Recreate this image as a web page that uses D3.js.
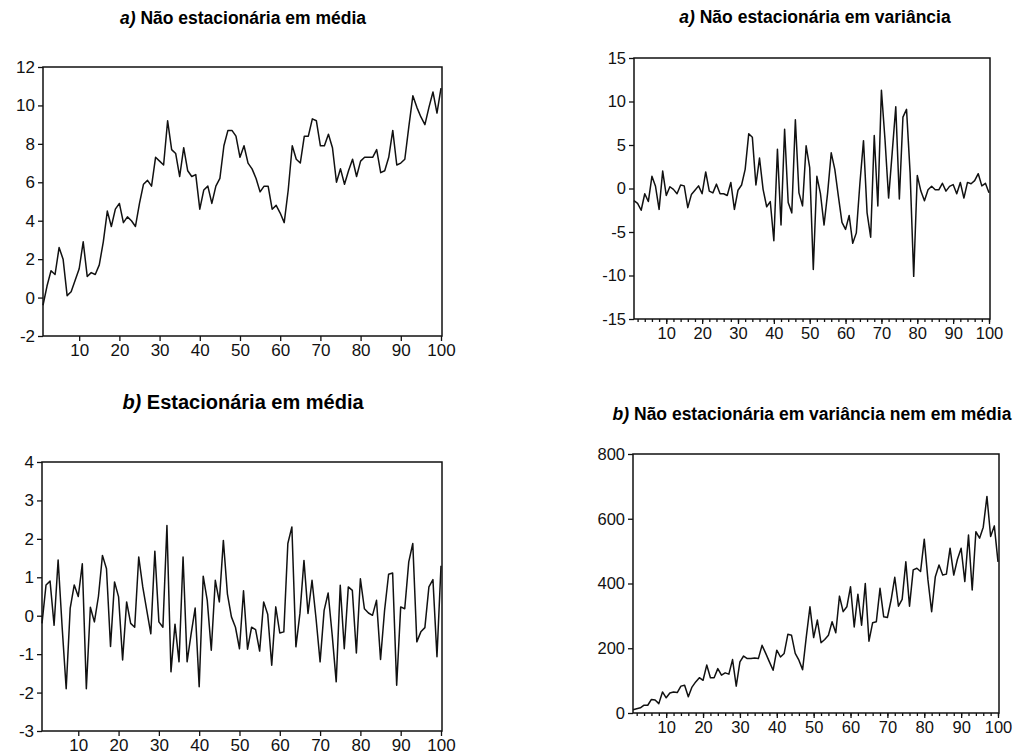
<!DOCTYPE html>
<html>
<head>
<meta charset="utf-8">
<script src="https://cdn.jsdelivr.net/npm/d3@7"></script>
<style>
body { margin: 0; background: #fff; }
svg { font-family: "Liberation Sans", Arial, sans-serif; }
.frame { fill: none; stroke: #111; stroke-width: 1.5; }
.serie { fill: none; stroke: #111; stroke-width: 1.5; stroke-linejoin: round; }
.axis path { display: none; }
.axis line { stroke: #111; stroke-width: 1.3; }
.axis text { fill: #111; }
</style>
</head>
<body>
<script>
// periodos (1..100) e rotulos dos eixos
const periodos = d3.range(1, 101);
const xTicks = [10, 20, 30, 40, 50, 60, 70, 80, 90, 100];
const xMinor = d3.range(2, 101, 2);

// a) nao estacionaria em media
const naoEstMedia = [
  -0.4, 0.6, 1.4, 1.2, 2.6, 2.0, 0.1, 0.3, 0.9, 1.5,
  2.9, 1.1, 1.3, 1.2, 1.7, 2.9, 4.5, 3.7, 4.6, 4.9,
  3.9, 4.2, 4.0, 3.7, 4.9, 5.9, 6.1, 5.8, 7.3, 7.1,
  6.9, 9.2, 7.7, 7.5, 6.3, 7.8, 6.6, 6.3, 6.4, 4.6,
  5.6, 5.8, 4.9, 5.8, 6.2, 7.9, 8.7, 8.7, 8.4, 7.3,
  7.9, 7.0, 6.7, 6.2, 5.5, 5.8, 5.8, 4.6, 4.8, 4.4,
  3.9, 5.6, 7.9, 7.2, 7.0, 8.4, 8.4, 9.3, 9.2, 7.9,
  7.9, 8.5, 7.8, 6.0, 6.7, 5.9, 6.6, 7.2, 6.3, 7.1,
  7.3, 7.3, 7.3, 7.7, 6.5, 6.6, 7.3, 8.7, 6.9, 7.0,
  7.2, 8.9, 10.5, 9.9, 9.4, 9.0, 9.9, 10.7, 9.6, 10.9
];
const yTicksMedia = [-2, 0, 2, 4, 6, 8, 10, 12];

// a) nao estacionaria em variancia
const naoEstVariancia = [
  -1.4, -1.7, -2.5, -0.6, -1.5, 1.4, 0.25, -2.4, 2.0, -0.8,
  0.2, -0.1, -0.6, 0.4, 0.3, -2.2, -0.7, -0.2, 0.3, -0.6,
  1.9, -0.3, -0.5, 0.5, -0.6, -0.6, -0.8, 0.7, -2.4, -0.2,
  0.4, 2.2, 6.3, 5.9, 0.4, 3.5, -0.1, -2.1, -1.5, -6.0,
  4.5, -4.2, 6.8, -1.6, -2.8, 7.9, -0.5, -2.0, 4.9, 2.4,
  -9.3, 1.4, -0.6, -4.2, -0.5, 4.1, 2.2, -0.9, -3.9, -4.7,
  -3.1, -6.3, -5.1, 0.6, 5.5, -2.8, -5.6, 6.1, -2.0, 11.3,
  5.6, -1.1, 4.1, 9.4, -1.2, 8.2, 9.1, 1.8, -10.1, 1.5,
  -0.3, -1.4, -0.15, 0.25, -0.15, -0.15, 0.6, -0.3, 0.25, 0.45,
  -0.6, 0.7, -1.1, 0.7, 0.55, 0.9, 1.7, 0.3, 0.6, -0.5
];
const yTicksVariancia = [-15, -10, -5, 0, 5, 10, 15];

// b) estacionaria em media
const estMedia = [
  -0.2, 0.8, 0.9, -0.25, 1.45, -0.3, -1.9, 0.2, 0.8, 0.5,
  1.35, -1.9, 0.22, -0.16, 0.5, 1.57, 1.22, -0.8, 0.88, 0.49,
  -1.15, 0.36, -0.2, -0.3, 1.53, 0.75, 0.14, -0.47, 1.68, -0.16,
  -0.3, 2.35, -1.46, -0.22, -1.2, 1.53, -1.2, -0.47, 0.2, -1.85,
  1.03, 0.4, -0.9, 0.92, 0.36, 1.96, 0.57, -0.03, -0.3, -0.86,
  0.65, -0.87, -0.3, -0.36, -0.92, 0.36, 0.04, -1.29, 0.23, -0.45,
  -0.42, 1.88, 2.31, -0.81, 0.06, 1.44, 0.06, 0.92, -0.08, -1.2,
  0.14, 0.59, -0.5, -1.72, 0.79, -0.86, 0.75, 0.66, -0.97, 0.96,
  0.18, 0.07, 0.01, 0.4, -1.14, 0.14, 1.08, 1.11, -1.81, 0.23,
  0.18, 1.4, 1.88, -0.68, -0.42, -0.31, 0.75, 0.94, -1.07, 1.3
];
const yTicksEst = [-3, -2, -1, 0, 1, 2, 3, 4];

// b) nao estacionaria em variancia nem em media
const naoEstAmbas = [
  10, 13, 16, 24, 24, 42, 40, 29, 65, 47,
  62, 65, 63, 83, 86, 50, 80, 96, 109, 101,
  148, 109, 109, 137, 117, 124, 120, 165, 83, 158,
  176, 168, 168, 170, 168, 209, 184, 158, 132, 194,
  173, 184, 243, 240, 184, 163, 134, 235, 328, 233,
  287, 217, 227, 240, 282, 248, 361, 313, 328, 390,
  266, 367, 271, 400, 222, 279, 282, 385, 297, 295,
  349, 419, 330, 351, 467, 330, 442, 447, 437, 537,
  411, 313, 421, 457, 426, 429, 509, 426, 475, 509,
  406, 550, 380, 560, 540, 574, 669, 545, 578, 467
];
const yTicksAmbas = [0, 200, 400, 600, 800];

const painel = [
  { pre: "a)", titulo: " Não estacionária em média", tx: 243, ty: 24, fs: 17.5,
    serie: naoEstMedia, yTicks: yTicksMedia, ydom: [-2, 12],
    x0: 43, x1: 442, y0: 67, y1: 336, minor: false, fsTick: 17 },
  { pre: "a)", titulo: " Não estacionária em variância", tx: 815, ty: 23, fs: 17.5,
    serie: naoEstVariancia, yTicks: yTicksVariancia, ydom: [-15, 15],
    x0: 634, x1: 990, y0: 58, y1: 319, minor: true, fsTick: 16.5 },
  { pre: "b)", titulo: " Estacionária em média", tx: 243, ty: 409, fs: 20,
    serie: estMedia, yTicks: yTicksEst, ydom: [-3, 4],
    x0: 42, x1: 442, y0: 462, y1: 731, minor: false, fsTick: 17 },
  { pre: "b)", titulo: " Não estacionária em variância nem em média", tx: 812, ty: 420, fs: 17.5,
    serie: naoEstAmbas, yTicks: yTicksAmbas, ydom: [0, 800],
    x0: 633, x1: 999, y0: 454, y1: 713, minor: true, fsTick: 16.5 }
];

const rotulo = d => String(d);

const svg = d3.select("body").append("svg")
  .attr("width", 1018)
  .attr("height", 755);

painel.forEach(p => {
  const x = d3.scaleLinear().domain([1, 100]).range([p.x0, p.x1 - 1]);
  const y = d3.scaleLinear().domain(p.ydom).range([p.y1, p.y0]);
  const g = svg.append("g");

  const t = g.append("text")
    .attr("x", p.tx)
    .attr("y", p.ty)
    .attr("text-anchor", "middle")
    .attr("font-weight", "bold")
    .attr("font-size", p.fs);
  t.append("tspan").attr("font-style", "italic").text(p.pre);
  t.append("tspan").text(p.titulo);

  g.append("g")
    .attr("class", "axis")
    .attr("transform", "translate(" + p.x0 + ",0)")
    .call(d3.axisLeft(y).tickValues(p.yTicks).tickFormat(rotulo).tickSize(5).tickPadding(3))
    .selectAll("text").attr("font-size", p.fsTick);

  if (p.minor) {
    g.append("g")
      .attr("class", "axis")
      .attr("transform", "translate(0," + p.y1 + ")")
      .call(d3.axisBottom(x).tickValues(xMinor).tickSize(3).tickFormat(""));
  }
  g.append("g")
    .attr("class", "axis")
    .attr("transform", "translate(0," + p.y1 + ")")
    .call(d3.axisBottom(x).tickValues(xTicks).tickFormat(rotulo).tickSize(5).tickPadding(3))
    .selectAll("text").attr("font-size", p.fsTick);

  g.append("rect")
    .attr("class", "frame")
    .attr("x", p.x0)
    .attr("y", p.y0)
    .attr("width", p.x1 - p.x0)
    .attr("height", p.y1 - p.y0);

  const linha = d3.line()
    .x((d, i) => x(periodos[i]))
    .y(d => y(d));

  g.append("path")
    .attr("class", "serie")
    .attr("d", linha(p.serie));
});
</script>
</body>
</html>
